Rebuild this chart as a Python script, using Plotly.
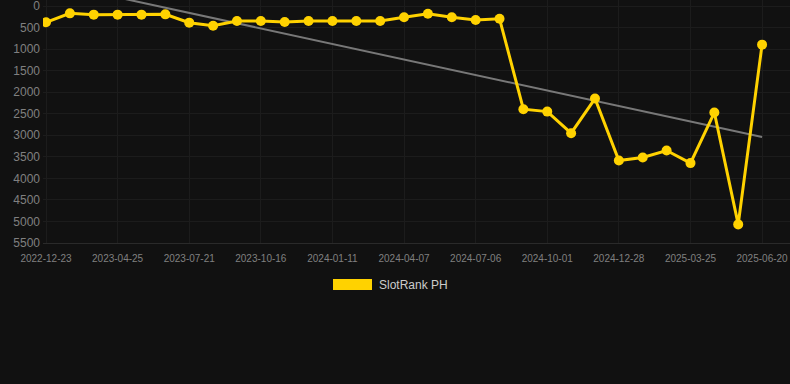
import numpy as np
import plotly.graph_objects as go

dates = [
    "2022-12-23", "2023-02-03", "2023-03-16", "2023-04-25", "2023-05-24", "2023-06-22",
    "2023-07-21", "2023-08-19", "2023-09-17", "2023-10-16", "2023-11-14", "2023-12-13",
    "2024-01-11", "2024-02-09", "2024-03-09", "2024-04-07", "2024-05-07", "2024-06-06",
    "2024-07-06", "2024-08-04", "2024-09-02", "2024-10-01", "2024-10-30", "2024-11-28",
    "2024-12-28", "2025-01-26", "2025-02-24", "2025-03-25", "2025-04-23", "2025-05-22",
    "2025-06-20",
]
rank_ph = [
    378, 170, 200, 200, 200, 193, 386, 456, 348, 348, 371, 348, 348, 348, 348, 262,
    178, 262, 324, 294, 2395, 2450, 2951, 2148, 3585, 3515, 3353, 3646, 2472, 5068, 896,
]
tick_labels = dates[::3]
y_ticks = [0, 500, 1000, 1500, 2000, 2500, 3000, 3500, 4000, 4500, 5000, 5500]

idx = np.arange(len(rank_ph))
slope, intercept = np.polyfit(idx, rank_ph, 1)
trend = intercept + slope * idx

L = 43
PW = 790 - L
PH = 243

fig = go.Figure()
fig.add_trace(go.Scatter(
    x=dates, y=trend, mode="lines",
    line=dict(color="rgb(120,120,120)", width=2),
    hoverinfo="skip", showlegend=False,
))
fig.add_trace(go.Scatter(
    x=dates, y=rank_ph, mode="lines+markers", name="SlotRank PH",
    line=dict(color="#FFD200", width=3),
    marker=dict(color="#FFD200", size=10),
    showlegend=False,
))

# legend drawn as a swatch + label
fig.add_shape(type="rect", xref="paper", yref="paper",
              x0=(333 - L) / PW, x1=(372 - L) / PW,
              y0=(PH - 279) / PH, y1=(PH - 290) / PH,
              fillcolor="#FFD200", line=dict(width=0))
fig.add_annotation(xref="paper", yref="paper",
                   x=(377 - L) / PW, y=(PH - 285) / PH,
                   xanchor="left", yanchor="middle", showarrow=False,
                   text="SlotRank PH", font=dict(size=12, color="#cccccc"))

fig.update_layout(
    width=790, height=384,
    margin=dict(l=L, r=0, t=0, b=384 - PH, pad=0),
    paper_bgcolor="#111111", plot_bgcolor="#111111",
    font=dict(family="Liberation Sans, Arial, sans-serif", color="#808080"),
    xaxis=dict(
        type="category", categoryorder="array", categoryarray=dates,
        tickmode="array", tickvals=tick_labels, ticktext=tick_labels,
        range=[-0.126, 31.17],
        showgrid=True, gridcolor="#1c1c1c", gridwidth=1,
        zeroline=False, showline=True, linecolor="#2a2a2a",
        tickfont=dict(size=10, color="#808080"),
        ticks="", ticklabelstandoff=6, ticklabeloverflow="allow",
    ),
    yaxis=dict(
        range=[5500, -140],
        tickmode="array", tickvals=y_ticks,
        showgrid=True, gridcolor="#1c1c1c", gridwidth=1,
        zeroline=False, showline=False,
        tickfont=dict(size=12, color="#808080"),
        ticks="", ticklabelstandoff=2, ticklabeloverflow="allow",
    ),
    showlegend=False,
)

fig.write_html("out.html", config={"displayModeBar": False})
with open("out.html", "r", encoding="utf-8") as f:
    html = f.read()
html = html.replace("<head>", "<head><style>html,body{margin:0;padding:0;background:#111111;overflow:hidden;}</style>", 1)
with open("out.html", "w", encoding="utf-8") as f:
    f.write(html)
